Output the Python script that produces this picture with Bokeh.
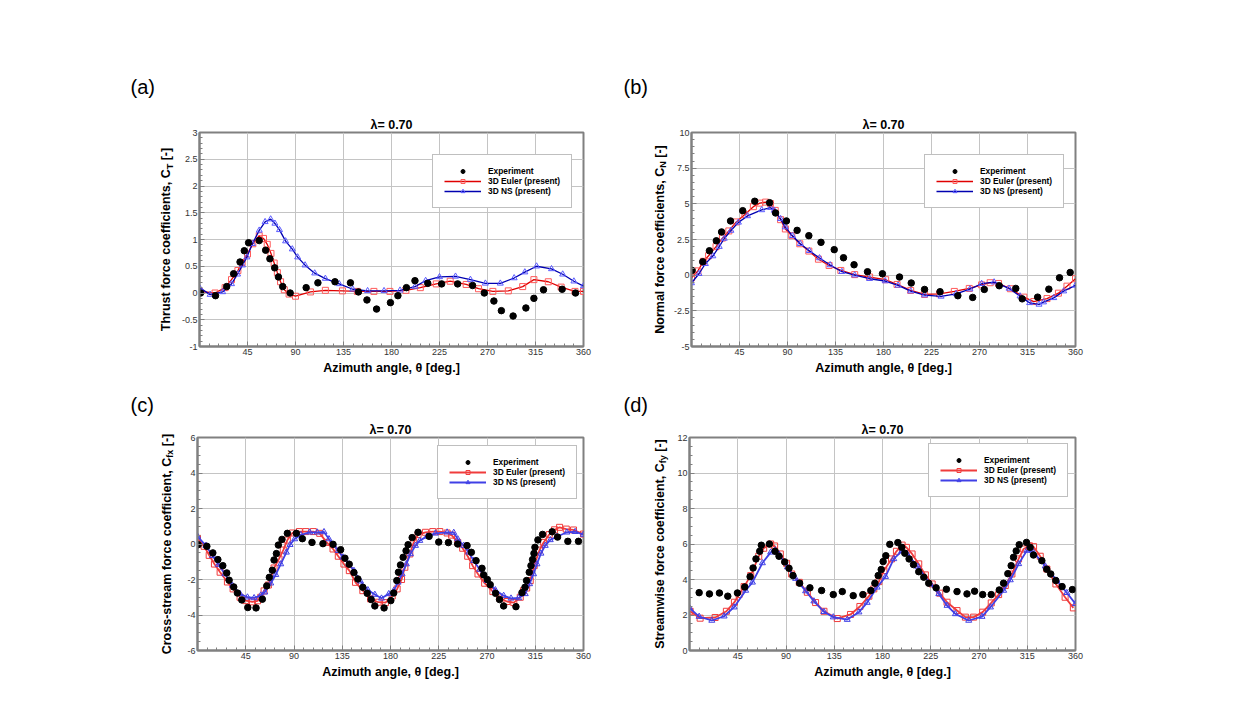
import numpy as np
from bokeh.plotting import figure
from bokeh.models import FixedTicker, Label, Legend, LegendItem, Range1d
from bokeh.layouts import column, row
from bokeh.embed import file_html
from bokeh.resources import INLINE

# ---------------- data ----------------
# (a) Thrust force coefficient C_T
theta_exp_a = [1, 15, 25.5, 32, 38, 42, 46, 56, 62, 66, 70.5, 74, 78, 85, 100, 111, 127, 141.5, 149, 157,
               166, 179, 186, 194, 202, 214, 227, 242, 256, 267, 276, 283, 294, 306, 313.5, 322.5, 340, 352.5]
ct_exp_a = [0.0, -0.05, 0.12, 0.36, 0.58, 0.79, 0.94, 0.98, 0.80, 0.64, 0.47, 0.30, 0.12, 0.0, 0.10, 0.19,
            0.21, 0.19, 0.02, -0.13, -0.30, -0.18, -0.05, 0.10, 0.23, 0.18, 0.17, 0.17, 0.14, 0.0, -0.15,
            -0.33, -0.43, -0.28, -0.10, 0.06, 0.07, 0.0]
theta_eu_a = [0, 14.6, 24, 30, 36, 40, 45, 50, 56, 60, 63.5, 67, 70, 73, 76, 79.5, 84, 90, 104, 118, 134,
              148, 163.5, 178.5, 193.5, 207, 222, 235, 250, 261.6, 275, 289.5, 303, 313.5, 327, 339, 352, 360]
ct_eu_a = [0.03, 0.0, 0.1, 0.25, 0.42, 0.57, 0.73, 0.92, 1.07, 1.02, 0.91, 0.74, 0.56, 0.38, 0.21, 0.06,
           -0.02, -0.06, 0.02, 0.05, 0.04, 0.03, 0.03, 0.03, 0.05, 0.1, 0.17, 0.22, 0.16, 0.08, 0.03, 0.04,
           0.12, 0.25, 0.21, 0.11, 0.03, 0.03]
theta_ns_a = [0, 10, 21.7, 30, 35.7, 40.3, 44.4, 49.6, 56, 61.5, 66.7, 70.7, 75, 80.7, 87, 92, 99, 108, 118,
              131, 143.7, 157.6, 173, 188, 202, 212, 225, 240, 254, 268, 282, 295, 305, 316, 330, 340.5, 351, 360]
ct_ns_a = [0.1, -0.03, 0.02, 0.17, 0.35, 0.52, 0.67, 0.92, 1.17, 1.33, 1.38, 1.30, 1.18, 0.97, 0.82, 0.67,
           0.52, 0.37, 0.27, 0.17, 0.07, 0.04, 0.04, 0.05, 0.12, 0.23, 0.3, 0.31, 0.25, 0.18, 0.18, 0.28,
           0.39, 0.5, 0.45, 0.35, 0.22, 0.13]

# (b) Normal force coefficient C_N
theta_exp_b = [0.6, 10.5, 16.8, 23.3, 28.2, 36.6, 48, 59.3, 73.2, 78.8, 89, 99, 110, 121.4, 133.8, 142.5,
               152.4, 165, 179, 195, 206, 218.5, 233, 249.7, 263.6, 274.5, 288.5, 304, 310, 324.5, 335, 345, 355]
cn_exp_b = [0.33, 0.94, 1.71, 2.41, 3.03, 3.8, 4.52, 5.18, 5.08, 4.36, 3.8, 3.14, 2.77, 2.30, 1.79, 1.22,
            0.73, 0.24, 0.10, -0.13, -0.55, -1.0, -1.16, -1.44, -1.56, -1.0, -0.74, -0.93, -1.66, -1.54,
            -0.98, -0.18, 0.19]
theta_eu_b = [0, 6, 11.2, 16, 23, 29, 35, 42, 50, 58, 64, 69.5, 74, 78.5, 83.5, 88, 94, 101.5, 110, 119,
              129, 140, 153, 167, 182, 192.7, 205.5, 218.5, 232.5, 246.4, 260.4, 272, 280, 287.8, 299,
              311.6, 320.9, 333.3, 344, 352, 360]
cn_eu_b = [-0.18, 0.3, 0.97, 1.36, 2.0, 2.6, 3.1, 3.73, 4.25, 4.8, 5.05, 5.12, 5.02, 4.54, 3.89, 3.24,
           2.77, 2.2, 1.69, 1.12, 0.68, 0.33, 0.04, -0.13, -0.32, -0.65, -1.07, -1.35, -1.31, -1.14, -0.93,
           -0.68, -0.53, -0.58, -0.95, -1.54, -1.85, -1.64, -1.26, -0.77, -0.25]
theta_ns_b = [0, 7, 13, 20, 26, 30.7, 37, 44, 52.5, 65.8, 74, 77.6, 83.5, 88, 94.7, 102, 110.5, 120, 130,
              141, 153, 167, 181.6, 193.7, 205.5, 218.5, 234, 248, 261, 272, 283.7, 297.7, 308, 317, 325.8,
              330, 339.6, 348.9, 360]
cn_ns_b = [-0.55, 0.1, 0.8, 1.34, 2.0, 2.57, 3.13, 3.7, 4.15, 4.57, 4.73, 4.54, 3.95, 3.37, 2.76, 2.2,
           1.71, 1.2, 0.71, 0.24, 0.0, -0.25, -0.41, -0.72, -1.12, -1.4, -1.49, -1.31, -0.98, -0.6, -0.49,
           -0.93, -1.47, -1.94, -2.05, -1.89, -1.59, -1.12, -0.72]

# (c) Cross-stream force coefficient C_fx
theta_exp_c = [0.6, 8.7, 14.3, 19, 23.6, 27.3, 29.5, 33.8, 37.2, 41.3, 46.9, 54.6, 60.5, 64.6, 67, 69.8,
               71.4, 73.6, 75.4, 78.8, 83.8, 92.2, 97.8, 106.8, 117, 126.4, 133.5, 137.5, 141.5, 145.9,
               149.6, 154.2, 158.3, 162, 165.4, 174, 180.3, 183, 185.9, 187.4, 189.3, 191.8, 194.5, 196.4,
               200.2, 205.7, 216, 225, 234, 242.7, 251.4, 255.4, 259.8, 265.3, 266.9, 270.3, 273, 278,
               281.7, 285.5, 297, 302.6, 305.4, 306.9, 309.4, 311, 312.5, 313.8, 314.7, 317.5, 321.8,
               330.8, 335.8, 345.4, 355.3]
cfx_exp_c = [-0.04, -0.13, -0.5, -0.88, -1.22, -1.63, -2.04, -2.42, -2.76, -3.15, -3.58, -3.6, -3.11,
             -2.36, -1.88, -1.48, -0.9, -0.54, -0.06, 0.26, 0.6, 0.6, 0.3, 0.09, 0.02, -0.02, -0.32, -0.8,
             -1.14, -1.61, -1.97, -2.44, -2.78, -3.13, -3.49, -3.6, -3.19, -2.76, -2.06, -1.59, -1.18,
             -0.75, -0.38, -0.04, 0.36, 0.66, 0.43, 0.11, 0.08, 0.0, -0.09, -0.47, -0.94, -1.37, -1.74,
             -2.0, -2.29, -2.78, -3.13, -3.49, -3.53, -2.74, -2.44, -2.06, -1.59, -1.22, -0.88, -0.53,
             -0.19, 0.23, 0.54, 0.69, 0.39, 0.15, 0.15]
theta_eu_c = [0, 6.2, 10.9, 15.8, 21.1, 27.9, 33.2, 39.7, 45, 51.2, 56, 59, 62.1, 66.1, 71.4, 76, 80, 83.8,
              88.5, 95, 101, 108, 114, 120.5, 126.4, 131.3, 136.6, 141.6, 147.4, 154.2, 161.4, 168.5,
              175.3, 181.6, 186.2, 190.3, 193.4, 198, 201.7, 205.7, 212.6, 219.4, 226, 232.8, 237, 242.7,
              247.3, 252, 256.6, 261.6, 267.8, 275.5, 281.7, 288.6, 295, 301, 304, 307, 310.3, 314, 319,
              322.8, 328, 333, 337.7, 343.9, 350.7, 360]
cfx_eu_c = [0.32, -0.13, -0.64, -1.13, -1.59, -2.14, -2.53, -3.0, -3.19, -3.26, -3.2, -3.0, -2.64, -2.31,
            -1.35, -0.84, -0.34, 0.22, 0.62, 0.7, 0.7, 0.7, 0.6, 0.09, -0.28, -0.69, -1.13, -1.5, -2.16,
            -2.63, -3.09, -3.28, -3.3, -2.93, -2.53, -2.0, -1.31, -0.56, 0.09, 0.53, 0.66, 0.7, 0.7, 0.62,
            0.5, 0.09, -0.24, -0.69, -1.22, -1.69, -2.21, -2.68, -3.04, -3.24, -3.3, -3.0, -2.63, -2.48,
            -2.06, -1.22, -0.34, 0.09, 0.53, 0.8, 0.94, 0.84, 0.79, 0.56]
theta_ns_c = [0, 7.8, 14, 19.6, 25.5, 32.6, 39.7, 46.6, 52.8, 59, 62.7, 68.3, 73, 77.6, 82.9, 86.3, 90.6,
              96.3, 104.6, 111.7, 118, 122.6, 126.7, 131.3, 135.6, 141.2, 145.9, 152, 158.9, 165.4, 171.6,
              178.4, 183, 187.1, 190.8, 194.8, 198.6, 203.3, 207.3, 214.1, 221.9, 232.8, 239, 242.7,
              248.3, 253, 257.6, 263.2, 270, 277.8, 285.5, 292.4, 299.5, 305.7, 309.7, 313.4, 316.6,
              320.3, 324.3, 329, 335.2, 344.5, 352.2, 360]
cfx_ns_c = [0.43, -0.09, -0.66, -1.16, -1.69, -2.34, -2.81, -3.0, -3.04, -2.89, -2.72, -2.21, -1.73,
            -1.13, -0.47, -0.04, 0.28, 0.51, 0.66, 0.66, 0.68, 0.28, -0.04, -0.38, -0.75, -1.13, -1.5,
            -2.1, -2.59, -2.85, -3.06, -2.81, -2.63, -2.16, -1.69, -1.13, -0.56, -0.09, 0.19, 0.43, 0.6,
            0.66, 0.64, 0.28, -0.09, -0.47, -0.94, -1.44, -2.06, -2.59, -2.91, -3.06, -3.04, -2.81,
            -2.25, -1.69, -1.13, -0.53, -0.09, 0.23, 0.41, 0.66, 0.69, 0.53]

# (d) Streamwise force coefficient C_fy
theta_exp_d = [9, 18.6, 27.9, 35.7, 44.7, 51.5, 56.5, 59.3, 62, 65.5, 67, 74.5, 79.8, 83.5, 88.8, 92.8,
               96.5, 102.7, 112.3, 123.2, 134.1, 142.5, 152.7, 161.7, 169.1, 172.9, 176, 178.8, 180.6,
               183.1, 186.8, 194.3, 198, 200.8, 204.8, 208.9, 213.8, 218.5, 223.1, 230, 239.6, 249.5,
               258.8, 265.9, 273.4, 281.4, 288.9, 292.9, 296.9, 300, 302.2, 304.7, 307.5, 314.3, 317.7,
               320.8, 328.6, 333.2, 336.9, 341.6, 347.5, 357.1]
cfy_exp_d = [3.26, 3.19, 3.24, 3.06, 3.24, 3.58, 4.16, 4.65, 5.16, 5.59, 5.93, 6.0, 5.59, 5.31, 4.99,
             4.63, 4.22, 3.79, 3.53, 3.38, 3.15, 3.32, 3.09, 3.15, 3.38, 3.79, 4.22, 4.56, 5.01, 5.34,
             5.98, 6.08, 5.81, 5.48, 5.16, 4.84, 4.44, 4.13, 3.79, 3.53, 3.45, 3.32, 3.19, 3.34, 3.15,
             3.15, 3.41, 3.79, 4.33, 4.78, 5.25, 5.61, 5.96, 6.09, 5.81, 5.38, 5.06, 4.58, 4.31, 3.94,
             3.6, 3.43]
theta_eu_d = [0.6, 9.9, 23.9, 34.4, 41.9, 46.2, 50.9, 57.1, 64.6, 69.2, 75.7, 79.4, 84.7, 90.6, 95.3,
              102.4, 109.9, 117.6, 125.4, 137.8, 150.2, 158.9, 167.3, 171.9, 176.6, 181.3, 188.4, 193,
              198.3, 202.3, 207.6, 213.8, 220, 226.3, 233.4, 240.2, 249.5, 257.3, 265, 273.4, 281.4,
              288.3, 294.5, 300.7, 306.9, 311.6, 317, 320.9, 327.1, 333.3, 341.7, 350.3, 358]
cfy_eu_d = [2.21, 1.82, 1.86, 2.21, 2.72, 3.15, 3.6, 4.22, 5.31, 5.76, 6.0, 5.89, 5.44, 4.91, 4.31, 3.84,
            3.28, 2.7, 2.21, 1.8, 2.03, 2.48, 3.06, 3.47, 3.88, 4.5, 5.16, 5.59, 5.94, 5.81, 5.44, 4.88,
            4.26, 3.75, 3.23, 2.72, 2.25, 1.88, 1.88, 2.16, 2.68, 3.15, 3.66, 4.31, 5.16, 5.72, 5.9, 5.85,
            5.31, 4.59, 3.75, 3.0, 2.4]
theta_ns_d = [0, 9, 20.8, 32.3, 41.6, 52.4, 58.7, 68, 75.7, 80, 83.5, 91.3, 99, 108.3, 116, 125.4, 134.1,
              147.1, 158, 165.7, 175, 182.8, 190.5, 198, 203, 212.8, 224.7, 232.5, 240.2, 248, 260.4,
              272.8, 280.7, 293, 299.2, 307, 314.7, 320, 331.8, 342.6, 351.9, 360]
cfy_ns_d = [2.4, 1.91, 1.69, 1.93, 2.44, 3.38, 3.84, 4.93, 5.53, 5.65, 5.42, 4.7, 4.05, 3.35, 2.78, 2.18,
            1.88, 1.74, 2.16, 2.7, 3.56, 4.16, 5.16, 5.6, 5.44, 4.73, 3.75, 3.19, 2.53, 2.06, 1.69, 1.91,
            2.44, 3.38, 3.97, 4.88, 5.63, 5.6, 4.75, 3.95, 3.25, 2.63]

legend_labels = ["Experiment", "3D Euler (present)", "3D NS (present)"]
panel_letters = ["(a)", "(b)", "(c)", "(d)"]
title_text = "\u03bb= 0.70"
x_label = "Azimuth angle, \u03b8 [deg.]"
x_ticks = [45, 90, 135, 180, 225, 270, 315, 360]

# ---------------- styling / layout ----------------
FONT = "Liberation Sans"
FW = 386          # frame width (px)
MAIN_LEFT = 19    # room for y tick labels inside the main figure
MAIN_TOP = 20     # room for the panel title inside the main figure
BOLD_W = {' ': 278, '\u00a0': 278, '(': 333, ')': 333, ',': 278, '-': 333, '.': 278, '[': 333, ']': 333,
          'C': 722, 'N': 722, 'S': 667, 'T': 611,
          'a': 556, 'c': 556, 'e': 556, 'f': 333, 'h': 611, 'i': 278, 'l': 278, 'm': 889,
          'n': 611, 'o': 611, 'r': 389, 's': 556, 't': 333, 'u': 611, 'w': 778, 'x': 556, 'y': 556}


def tw(s, size):
    return sum(BOLD_W.get(ch, 556) for ch in s) * size / 1000.0


def no_align(fig):
    try:
        fig.frame_align = False
    except Exception:
        pass


def strip(w, h):
    """A blank figure whose frame is its whole canvas; data units = pixels (y downwards)."""
    s = figure(width=w, height=h, x_range=Range1d(0, w), y_range=Range1d(h, 0),
               output_backend="svg", toolbar_location=None, tools="", title=None,
               x_axis_type=None, y_axis_type=None, min_border=0)
    s.outline_line_color = None
    s.background_fill_color = "white"
    s.border_fill_color = "white"
    no_align(s)
    return s


def add_text(s, x, y, text, size, style="bold", angle=0, align="center"):
    s.add_layout(Label(x=x, y=y, text=text, text_font=FONT, text_font_size="%spx" % size,
                       text_font_style=style, angle=angle, angle_units="deg",
                       text_align=align, text_baseline="middle", text_color="black"))


def build(cfg, exp_x, exp_y, eu_x, eu_y, ns_x, ns_y):
    pw, ph, fl, ft, fh = cfg["w"], cfg["h"], cfg["fl"], cfg["ft"], cfg["fh"]
    y0, y1 = cfg["yr"]
    strip_w = fl - MAIN_LEFT
    top_h = ft - MAIN_TOP
    main_w = pw - strip_w
    main_h = ph - top_h

    p = figure(width=main_w, height=main_h, x_range=Range1d(0, 360), y_range=Range1d(y0, y1),
               output_backend="svg", toolbar_location=None, tools="", title=title_text,
               min_border_left=MAIN_LEFT, min_border_right=main_w - MAIN_LEFT - FW,
               min_border_top=MAIN_TOP, min_border_bottom=main_h - MAIN_TOP - fh)
    no_align(p)
    p.title.align = "center"
    p.title.text_font = FONT
    p.title.text_font_size = "12.5px"
    p.title.text_font_style = "bold"
    p.title.text_color = "black"
    p.title.standoff = 2
    p.title.offset = -4.5
    p.background_fill_color = "white"
    p.border_fill_color = "white"
    p.outline_line_color = "#808080"
    p.outline_line_width = 2

    xt = FixedTicker(ticks=x_ticks, minor_ticks=list(range(0, 361, 9)))
    yt_major = list(np.round(np.arange(y0, y1 + 1e-9, cfg["ystep"]), 4))
    yt_minor = list(np.round(np.arange(y0, y1 + 1e-9, cfg["yminor"]), 4))
    yt = FixedTicker(ticks=yt_major, minor_ticks=yt_minor)
    p.xaxis.ticker = xt
    p.yaxis.ticker = yt
    p.xgrid.ticker = xt
    p.ygrid.ticker = yt
    p.yaxis.major_label_overrides = {float(t): ("%g" % t) for t in yt_major}
    for ax in (p.xaxis[0], p.yaxis[0]):
        ax.axis_line_color = "#808080"
        ax.axis_line_width = 2
        ax.major_tick_in = 5
        ax.major_tick_out = 0
        ax.minor_tick_in = 3
        ax.minor_tick_out = 0
        ax.major_tick_line_color = "#808080"
        ax.minor_tick_line_color = "#808080"
        ax.major_label_text_font = FONT
        ax.major_label_text_font_size = "9px"
        ax.major_label_text_color = "#333333"
        ax.major_label_standoff = 2
    p.xaxis.axis_label = x_label
    p.xaxis.axis_label_text_font = FONT
    p.xaxis.axis_label_text_font_size = "12.5px"
    p.xaxis.axis_label_text_font_style = "bold"
    p.xaxis.axis_label_text_color = "black"
    p.xaxis.axis_label_standoff = 3
    for g in (p.xgrid[0], p.ygrid[0]):
        g.grid_line_color = "#c4c4c4"
        g.grid_line_width = 1

    st = cfg["style"]
    eu_l = p.line(eu_x, eu_y, line_color=st["eu_line"], line_width=st["lw"])
    eu_m = p.scatter(eu_x, eu_y, marker="square", size=6, line_color=st["eu_mk"], fill_color=None,
                     line_width=1)
    ns_l = p.line(ns_x, ns_y, line_color=st["ns_line"], line_width=st["lw"])
    ns_m = p.scatter(ns_x, ns_y, marker="triangle", size=6, line_color=st["ns_mk"], fill_color=None,
                     line_width=1)
    ex = p.scatter(exp_x, exp_y, marker="circle", size=6.5, fill_color="black", line_color="black")

    legend = Legend(items=[LegendItem(label=legend_labels[0], renderers=[ex]),
                           LegendItem(label=legend_labels[1], renderers=[eu_l, eu_m]),
                           LegendItem(label=legend_labels[2], renderers=[ns_l, ns_m])],
                    location=cfg["leg"], orientation="vertical",
                    border_line_color="#808080", border_line_width=1.5,
                    background_fill_color="white", background_fill_alpha=1.0,
                    padding=11, spacing=0, margin=0, glyph_width=37, glyph_height=10,
                    label_height=10, label_standoff=7, label_text_font=FONT,
                    label_text_font_size="8.4px", label_text_font_style="bold",
                    label_text_color="black")
    p.add_layout(legend)

    # top strip: panel letter
    top = strip(pw, top_h)
    add_text(top, cfg["letter"][0], cfg["letter"][1], cfg["letter_text"], 20, style="normal", align="left")

    # left strip: rotated y-axis label; main part ends where the subscript starts
    left = strip(strip_w, main_h)
    main, sub, tail = cfg["ylab"]
    fs, ss = 12.5, 9
    wm, ws, wt = tw(main, fs), tw(sub, ss), tw(tail, fs)
    cy = MAIN_TOP + fh / 2.0
    junction = cy + (wm + ws + wt) / 2.0 - wm
    lx = cfg["ylx"]
    add_text(left, lx, junction, main, fs, angle=90, align="right")
    add_text(left, lx + 3.5, junction, sub, ss, angle=90, align="left")
    add_text(left, lx, junction - ws, tail, fs, angle=90, align="left")

    return column(top, row(left, p, spacing=0), spacing=0)


style_top = dict(eu_line="#e00000", eu_mk="#ff5a5a", ns_line="#0000b0", ns_mk="#5a5aff", lw=1.3)
style_bot = dict(eu_line="#f03c3c", eu_mk="#f03c3c", ns_line="#4040e6", ns_mk="#4040e6", lw=1.8)

cfg_a = dict(w=612, h=390, fl=197, ft=132, fh=214, yr=(-1, 3), ystep=0.5, yminor=0.1,
             letter=(130, 86), letter_text=panel_letters[0], ylx=165.5,
             ylab=("Thrust force coefficients, C", "T", "\u00a0[-]"), leg=(233, 138), style=style_top)
cfg_b = dict(w=620, h=390, fl=77, ft=132, fh=214, yr=(-5, 10), ystep=2.5, yminor=0.5,
             letter=(11, 86), letter_text=panel_letters[1], ylx=47,
             ylab=("Normal force coefficients, C", "N", "\u00a0[-]"), leg=(233, 138), style=style_top)
cfg_c = dict(w=612, h=306, fl=197, ft=47, fh=213, yr=(-6, 6), ystep=2, yminor=0.5,
             letter=(130, 14.5), letter_text=panel_letters[2], ylx=166,
             ylab=("Cross-stream force coefficient, C", "fx", "\u00a0[-]"), leg=(240, 151), style=style_bot)
cfg_d = dict(w=620, h=306, fl=77, ft=47, fh=213, yr=(0, 12), ystep=2, yminor=0.5,
             letter=(11, 14.5), letter_text=panel_letters[3], ylx=47,
             ylab=("Streamwise force coefficient, C", "fy", "\u00a0[-]"), leg=(239, 153), style=style_bot)

pa = build(cfg_a, theta_exp_a, ct_exp_a, theta_eu_a, ct_eu_a, theta_ns_a, ct_ns_a)
pb = build(cfg_b, theta_exp_b, cn_exp_b, theta_eu_b, cn_eu_b, theta_ns_b, cn_ns_b)
pc = build(cfg_c, theta_exp_c, cfx_exp_c, theta_eu_c, cfx_eu_c, theta_ns_c, cfx_ns_c)
pd = build(cfg_d, theta_exp_d, cfy_exp_d, theta_eu_d, cfy_eu_d, theta_ns_d, cfy_ns_d)

layout = column(row(pa, pb, spacing=0), row(pc, pd, spacing=0), spacing=0)
open("out.html", "w").write(file_html(layout, INLINE))
